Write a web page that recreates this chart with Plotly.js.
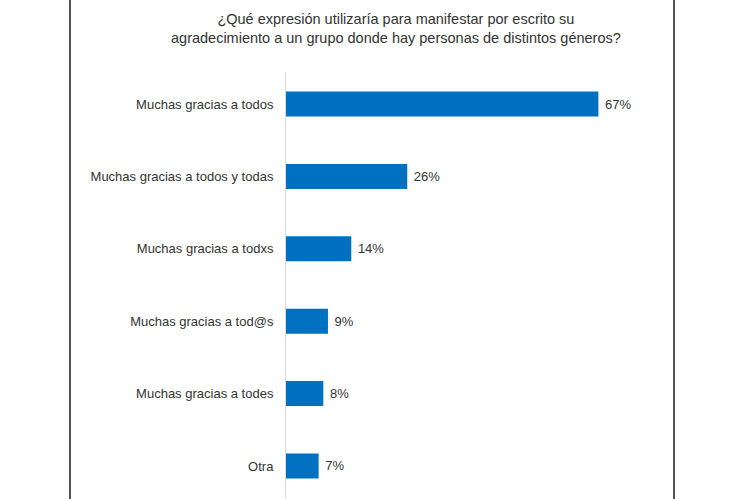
<!DOCTYPE html>
<html>
<head>
<meta charset="utf-8">
<script src="https://cdn.plot.ly/plotly-3.0.1.min.js"></script>
<style>html,body{margin:0;padding:0;background:#fff;}#chart{width:750px;height:499px;}</style>
</head>
<body>
<div id="chart"></div>
<script>
const categories = [
  "Muchas gracias a todos",
  "Muchas gracias a todos y todas",
  "Muchas gracias a todxs",
  "Muchas gracias a tod@s",
  "Muchas gracias a todes",
  "Otra"
];
const values = [67, 26, 14, 9, 8, 7];
const chartTitle = "¿Qué expresión utilizaría para manifestar por escrito su<br>agradecimiento a un grupo donde hay personas de distintos géneros?";

const FONT = "Liberation Sans, Arial, sans-serif";

const trace = {
  type: "bar",
  orientation: "h",
  y: categories,
  x: values,
  marker: {color: "#0070C0", line: {width: 0}},
  text: values.map(v => v + "%"),
  texttemplate: " %{text}",
  textposition: "outside",
  cliponaxis: false,
  textfont: {family: FONT, size: 13, color: "#333333"},
  hoverinfo: "skip"
};

const W = 373; // plot width
const L = 286;
const T = 72;
const H = 427;
const layout = {
  width: 750,
  height: 499,
  margin: {l: L, r: 750 - L - W, t: T, b: 0, pad: 0},
  paper_bgcolor: "#ffffff",
  plot_bgcolor: "#ffffff",
  bargap: 0.655,
  showlegend: false,
  font: {family: FONT, color: "#333333"},
  xaxis: {
    range: [0, 80],
    showgrid: false,
    zeroline: false,
    showticklabels: false,
    showline: false,
    fixedrange: true
  },
  yaxis: {
    type: "category",
    categoryorder: "array",
    categoryarray: categories,
    range: [5.456, -0.442],
    showgrid: false,
    zeroline: false,
    showline: true,
    linecolor: "#d9d9d9",
    linewidth: 1,
    ticks: "",
    ticklabelstandoff: 9,
    tickfont: {family: FONT, size: 13, color: "#333333"},
    fixedrange: true
  },
  annotations: [{
    text: chartTitle,
    xref: "paper", yref: "paper",
    x: (396 - L) / W, y: 1 + (T - 9) / H,
    xanchor: "center", yanchor: "top",
    showarrow: false,
    align: "center",
    font: {family: FONT, size: 14.5, color: "#333333"}
  }],
  shapes: [
    {type: "line", xref: "paper", yref: "paper", x0: (70 - L) / W, x1: (70 - L) / W, y0: -0.2, y1: 1.3,
     line: {color: "#555555", width: 2}},
    {type: "line", xref: "paper", yref: "paper", x0: (674 - L) / W, x1: (674 - L) / W, y0: -0.2, y1: 1.3,
     line: {color: "#555555", width: 2}}
  ]
};

Plotly.newPlot("chart", [trace], layout, {displayModeBar: false, staticPlot: true});
</script>
</body>
</html>
